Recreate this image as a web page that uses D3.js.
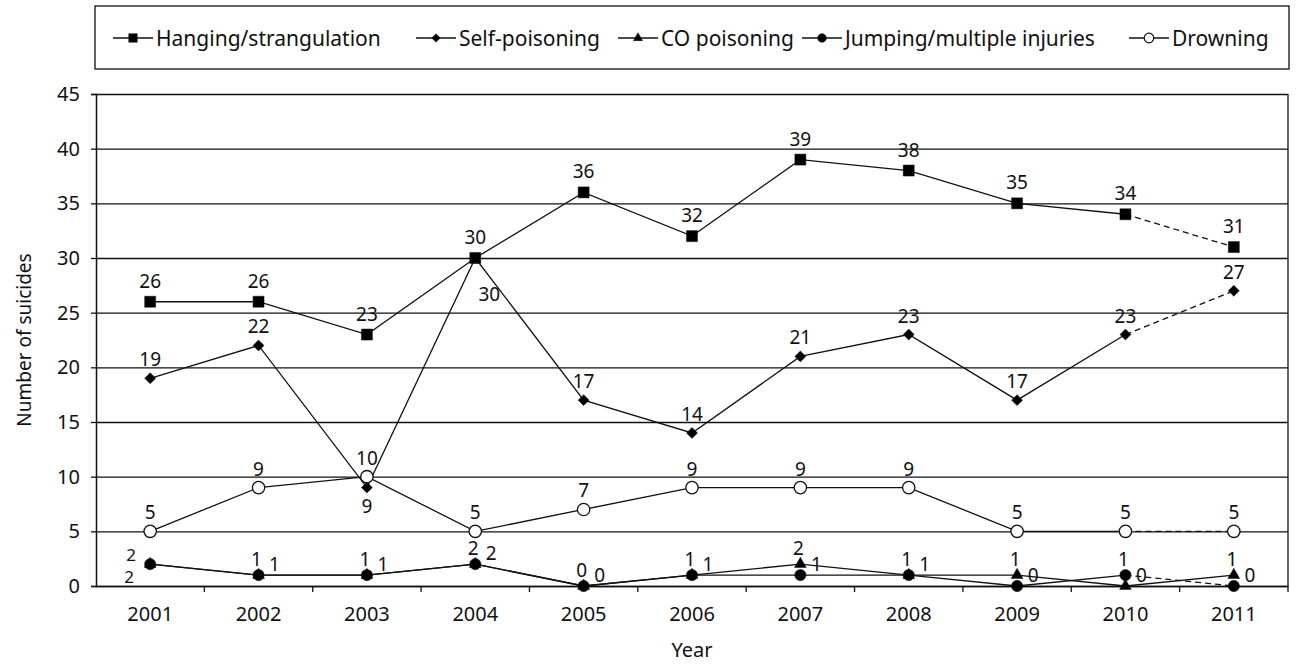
<!DOCTYPE html>
<html>
<head>
<meta charset="utf-8">
<script src="https://cdn.jsdelivr.net/npm/d3@7"></script>
<style>
  body { margin: 0; background: #fff; }
  svg text { font-family: "Noto Sans", "Open Sans", sans-serif; fill: #111; }
</style>
</head>
<body>
<svg id="chart" width="1298" height="665"></svg>
<script>
// Suicides by method, 2001-2011
const years = [2001, 2002, 2003, 2004, 2005, 2006, 2007, 2008, 2009, 2010, 2011];
const hanging       = [26, 26, 23, 30, 36, 32, 39, 38, 35, 34, 31];
const selfPoisoning = [19, 22,  9, 30, 17, 14, 21, 23, 17, 23, 27];
const coPoisoning   = [ 2,  1,  1,  2,  0,  1,  2,  1,  1,  0,  1];
const jumping       = [ 2,  1,  1,  2,  0,  1,  1,  1,  0,  1,  0];
const drowning      = [ 5,  9, 10,  5,  7,  9,  9,  9,  5,  5,  5];
const yTicks = [0, 5, 10, 15, 20, 25, 30, 35, 40, 45];
const seriesNames = ["Hanging/strangulation", "Self-poisoning", "CO poisoning", "Jumping/multiple injuries", "Drowning"];

const svg = d3.select("#chart");
const margin = { left: 96, right: 1288, top: 94, bottom: 586 };

const x = d3.scaleBand().domain(years).range([margin.left, margin.right]).paddingInner(0).paddingOuter(0);
const cx = d => x(d) + x.bandwidth() / 2;
const y = d3.scaleLinear().domain([0, 45]).range([margin.bottom, margin.top]);

// diamond drawn as a rotated square
const diamond = {
  draw(ctx, size) {
    const r = Math.sqrt(size / 2);
    ctx.moveTo(0, -r); ctx.lineTo(r, 0); ctx.lineTo(0, r); ctx.lineTo(-r, 0); ctx.closePath();
  }
};

const series = [
  { name: seriesNames[0], values: hanging,       symbol: d3.symbolSquare,   size: 121, fill: "#000", dashLast: true },
  { name: seriesNames[1], values: selfPoisoning, symbol: diamond,           size: 60,  fill: "#000", dashLast: true },
  { name: seriesNames[2], values: coPoisoning,   symbol: d3.symbolTriangle, size: 60,  fill: "#000", dashLast: false },
  { name: seriesNames[3], values: jumping,       symbol: d3.symbolCircle,   size: 100, fill: "#000", dashLast: true },
  { name: seriesNames[4], values: drowning,      symbol: d3.symbolCircle,   size: 120, fill: "#fff", dashLast: true }
];

// grid lines
svg.append("g")
  .attr("transform", `translate(${margin.left},0)`)
  .call(d3.axisLeft(y).tickValues(yTicks).tickSize(-(margin.right - margin.left)).tickFormat(""))
  .call(g => g.select(".domain").remove())
  .call(g => g.selectAll("line").attr("stroke", "#111").attr("stroke-width", 1.3));

// right border
svg.append("line")
  .attr("x1", margin.right).attr("x2", margin.right)
  .attr("y1", margin.top).attr("y2", margin.bottom)
  .attr("stroke", "#111").attr("stroke-width", 1.3);

// y axis
svg.append("g")
  .attr("transform", `translate(${margin.left},0)`)
  .call(d3.axisLeft(y).tickValues(yTicks).tickSize(5).tickPadding(11))
  .call(g => g.select(".domain").attr("stroke", "#111").attr("stroke-width", 1.5))
  .call(g => g.selectAll("line").attr("stroke", "#111").attr("stroke-width", 1.3))
  .call(g => g.selectAll("text").attr("font-size", 20).attr("fill", "#111"));

// x axis: labels at category centres, ticks at boundaries
svg.append("g")
  .attr("transform", `translate(0,${margin.bottom})`)
  .call(d3.axisBottom(x).tickSize(0).tickPadding(21))
  .call(g => g.select(".domain").attr("stroke", "#111").attr("stroke-width", 1.5))
  .call(g => g.selectAll("text").attr("font-size", 20).attr("fill", "#111"));

svg.append("g").selectAll("line")
  .data(years.slice(1).map(d => x(d)).concat([margin.right]))
  .join("line")
  .attr("x1", d => d).attr("x2", d => d)
  .attr("y1", margin.bottom).attr("y2", margin.bottom + 6)
  .attr("stroke", "#111").attr("stroke-width", 1.3);

// axis titles
svg.append("text")
  .attr("x", (margin.left + margin.right) / 2).attr("y", 657)
  .attr("text-anchor", "middle").attr("font-size", 20)
  .text("Year");
svg.append("text")
  .attr("transform", `translate(31,${(margin.top + margin.bottom) / 2}) rotate(-90)`)
  .attr("text-anchor", "middle").attr("font-size", 19)
  .text("Number of suicides");

// lines: solid up to the second-last year, dashed for the final segment where flagged
const line = d3.line().x(d => cx(d.year)).y(d => y(d.v));
series.forEach(s => {
  const pts = years.map((yr, i) => ({ year: yr, v: s.values[i] }));
  const n = pts.length;
  svg.append("path")
    .attr("d", line(s.dashLast ? pts.slice(0, n - 1) : pts))
    .attr("fill", "none").attr("stroke", "#111").attr("stroke-width", 1.3);
  if (s.dashLast) {
    svg.append("path")
      .attr("d", line(pts.slice(n - 2)))
      .attr("fill", "none").attr("stroke", "#111").attr("stroke-width", 1.3)
      .attr("stroke-dasharray", "6,4");
  }
});

// markers
series.forEach(s => {
  const sym = d3.symbol().type(s.symbol).size(s.size);
  svg.append("g").selectAll("path")
    .data(years.map((yr, i) => ({ year: yr, v: s.values[i] })))
    .join("path")
    .attr("d", sym)
    .attr("transform", d => `translate(${cx(d.year)},${y(d.v)})`)
    .attr("fill", s.fill)
    .attr("stroke", "#111")
    .attr("stroke-width", s.fill === "#fff" ? 1.3 : 0.5);
});

// value labels
const labels = svg.append("g");
function label(xp, yp, t, size = 19) {
  labels.append("text")
    .attr("x", xp).attr("y", yp)
    .attr("text-anchor", "middle").attr("dominant-baseline", "central")
    .attr("font-size", size)
    .text(t);
}

// hanging and drowning: above
years.forEach((yr, i) => {
  label(cx(yr), y(hanging[i]) - 21, hanging[i]);
  label(cx(yr), y(drowning[i]) - 19, drowning[i]);
});

// self-poisoning: above, moved below when another series sits just above it
years.forEach((yr, i) => {
  const v = selfPoisoning[i];
  const others = [hanging[i], drowning[i]];
  const same = others.some(o => o === v);
  const close = others.some(o => o >= v && o - v <= 3);
  if (same) label(cx(yr) + 14, y(v) + 36, v);
  else if (close) label(cx(yr), y(v) + 18, v);
  else label(cx(yr), y(v) - 19, v);
});

// CO and jumping: the higher value above, the other to the right
years.forEach((yr, i) => {
  const co = coPoisoning[i], jm = jumping[i];
  const px = cx(yr);
  if (i === 0) {
    label(px - 19, y(co) - 10, co, 17);
    label(px - 21, y(jm) + 12, jm, 17);
    return;
  }
  const [top, side] = co >= jm ? [co, jm] : [jm, co];
  label(px - 2, y(top) - 16, top);
  label(px + 16, y(side) - 11, side);
});

// legend
const legend = svg.append("g");
legend.append("rect")
  .attr("x", 95).attr("y", 6).attr("width", 1194).attr("height", 63)
  .attr("fill", "#fff").attr("stroke", "#111").attr("stroke-width", 1.3);

const legendX = [113, 416, 618, 802, 1129];
series.forEach((s, i) => {
  const g = legend.append("g").attr("transform", `translate(${legendX[i]},38)`);
  g.append("line").attr("x1", 0).attr("x2", 40).attr("y1", 0).attr("y2", 0)
    .attr("stroke", "#111").attr("stroke-width", 1.3);
  g.append("path")
    .attr("d", d3.symbol().type(s.symbol).size(s.size * 0.6))
    .attr("transform", "translate(20,0)")
    .attr("fill", s.fill).attr("stroke", "#111")
    .attr("stroke-width", s.fill === "#fff" ? 1.2 : 0.5);
  g.append("text")
    .attr("x", 43).attr("y", 0)
    .attr("dominant-baseline", "central")
    .attr("font-size", 21)
    .text(s.name);
});
</script>
</body>
</html>
